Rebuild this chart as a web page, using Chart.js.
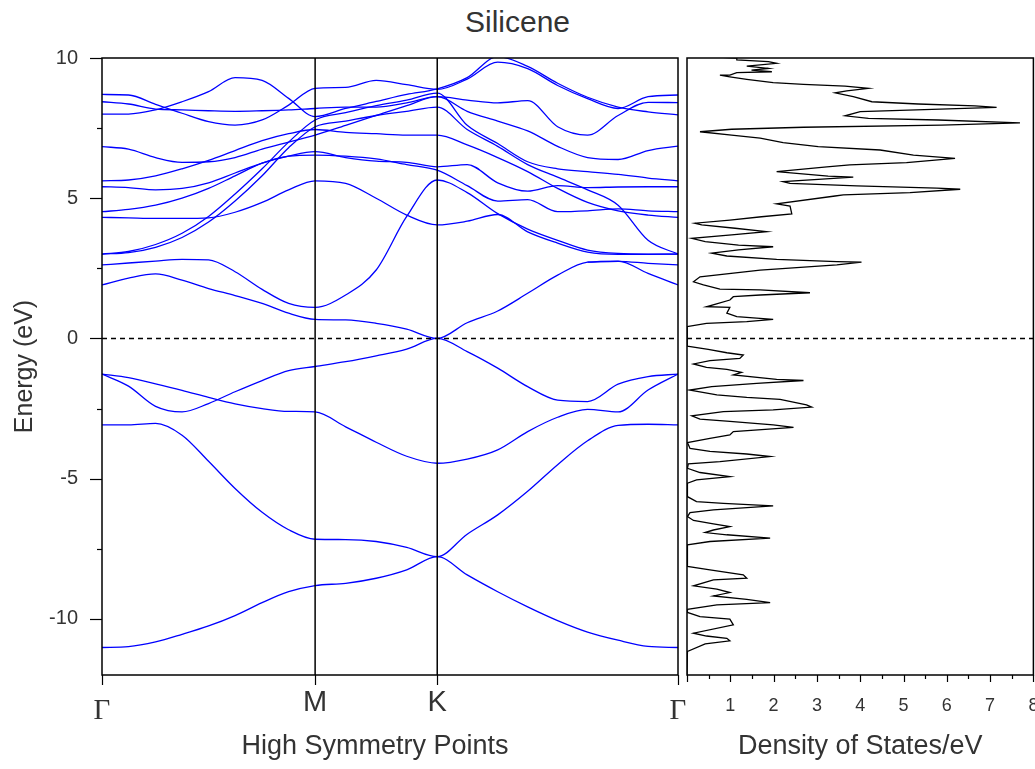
<!DOCTYPE html>
<html>
<head>
<meta charset="utf-8">
<title>Silicene</title>
<script src="https://cdn.jsdelivr.net/npm/chart.js@4.4.0/dist/chart.umd.min.js"></script>
<style>
  html, body { margin: 0; padding: 0; background: #fff; overflow: hidden; }
  #wrap { position: relative; width: 1035px; height: 769px; }
  #title { position: absolute; left: 0; top: 7px; width: 1035px; text-align: center;
           font: 30px/30px "Liberation Sans", Arial, sans-serif; color: #333; }
  #bandChart { position: absolute; left: 0; top: 0; }
  #dosChart { position: absolute; left: 680px; top: 0; }
</style>
</head>
<body>
<div id="wrap">
  <div id="title">Silicene</div>
  <canvas id="bandChart" width="700" height="769"></canvas>
  <canvas id="dosChart" width="360" height="769"></canvas>
</div>
<script>
/* k-path: Γ - M - K - Γ (fraction of path length) */
const kTicks = [0, 0.37, 0.582, 1];
const kLabels = ['Γ', 'M', 'K', 'Γ'];
const kGrid = [0, 0.046, 0.093, 0.139, 0.185, 0.231, 0.278, 0.324, 0.370,
               0.423, 0.476, 0.529, 0.582,
               0.634, 0.687, 0.739, 0.791, 0.843, 0.896, 0.948, 1.0];

/* bands (eV) on kGrid */
const bandL1 = [-11.02,-10.99,-10.82,-10.55,-10.25,-9.88,-9.42,-9.03,-8.81, -8.73,-8.55,-8.25,-7.78, -8.43,-9.03,-9.57,-10.06,-10.47,-10.76,-10.98,-11.02];
const bandL2 = [-3.08,-3.08,-3.03,-3.45,-4.38,-5.35,-6.2,-6.82,-7.16, -7.17,-7.24,-7.45,-7.78, -6.98,-6.29,-5.45,-4.5,-3.65,-3.1,-3.06,-3.08];
const bandV1 = [-1.27,-1.7,-2.42,-2.62,-2.32,-1.9,-1.5,-1.15,-1.0, -0.83,-0.62,-0.38,0, -0.47,-1.06,-1.72,-2.2,-2.25,-1.63,-1.36,-1.27];
const bandV2 = [-1.27,-1.4,-1.62,-1.85,-2.1,-2.33,-2.5,-2.6,-2.62, -3.15,-3.7,-4.2,-4.45, -4.3,-3.97,-3.32,-2.81,-2.53,-2.62,-1.84,-1.27];
const bandC1 = [1.91,2.15,2.3,2.08,1.78,1.53,1.25,0.9,0.68, 0.66,0.54,0.33,0, 0.56,0.98,1.61,2.26,2.72,2.76,2.32,1.91];
const bandC1b = [null,null,null,null,null,null,null,null,null, null,null,null,null, null,null,null,null,2.72,2.75,2.68,2.62];
const bandC2 = [2.62,2.69,2.76,2.82,2.8,2.38,1.75,1.25,1.11, 1.55,2.44,4.35,5.65, 5.2,4.45,3.9,3.5,3.15,3.03,3.01,3.01];
const bandF  = [4.32,4.3,4.28,4.28,4.3,4.5,4.85,5.3,5.62, 5.53,5.0,4.4,4.05, 4.18,4.42,3.8,3.4,3.08,3.0,3.0,3.01];
const bandE3 = [4.52,4.6,4.75,5.0,5.35,5.8,6.25,6.5,6.54, 6.5,6.4,6.2,6.0, 5.45,4.9,4.95,4.52,4.55,4.62,4.55,4.52];
const bandE2 = [5.41,5.38,5.3,5.35,5.55,5.9,6.25,6.5,6.66, 6.45,6.32,6.28,6.12, 6.2,5.55,5.25,5.45,5.38,5.4,5.41,5.41];
const bandE1 = [5.62,5.65,5.8,6.05,6.35,6.7,7.05,7.3,7.45, 7.35,7.3,7.25,7.25, 6.9,6.45,5.95,5.35,4.85,4.55,4.4,4.32];
const bandD2 = [3.01,3.06,3.25,3.6,4.15,4.9,5.8,6.8,7.55, 7.75,7.95,8.1,8.25, 7.45,6.85,6.2,5.75,5.3,4.75,3.5,3.01];
const bandD1 = [3.01,3.1,3.35,3.75,4.35,5.15,6.05,7.0,7.79, 8.05,8.3,8.5,8.75, 7.6,6.95,6.3,6.05,5.95,5.85,5.72,5.62];
const bandH  = [6.84,6.75,6.45,6.28,6.3,6.45,6.75,7.0,7.25, 7.6,7.95,8.3,8.62, 8.1,7.75,7.4,6.85,6.45,6.38,6.7,6.86];
const bandC  = [8.44,8.36,8.18,8.15,8.12,8.1,8.12,8.15,8.2, 8.25,8.25,8.4,8.62, 8.5,8.4,8.48,7.55,7.25,7.95,8.42,8.41];
const bandB  = [8.7,8.68,8.35,8.03,7.73,7.61,7.79,8.32,8.92, 8.95,9.2,9.05,8.88, 9.25,9.85,9.62,9.02,8.55,8.2,8.62,8.68];
const bandA  = [8.0,8.0,8.15,8.44,8.8,9.3,9.2,8.56,7.91, 8.2,8.45,8.7,8.9, 9.3,10.05,9.7,9.1,8.6,8.25,8.08,7.97];

const bands = [bandL1, bandL2, bandV1, bandV2, bandC1, bandC1b, bandC2, bandF, bandE3,
               bandE2, bandE1, bandD2, bandD1, bandH, bandC, bandB, bandA];

/* density of states, read top to bottom */
const dosEnergy = [10.05,10.0,9.93,9.87,9.81,9.71,9.63,9.57,9.51,9.48,9.39,9.39,9.33,9.24,9.12,9.06,9.0,8.92,8.83,8.76,
  8.62,8.44,8.36,8.29,8.24,8.09,7.94,7.85,7.79,7.69,7.61,7.53,7.46,7.37,7.25,7.14,6.98,6.84,6.72,6.54,
  6.42,6.27,6.19,6.12,5.95,5.79,5.75,5.59,5.53,5.44,5.36,5.32,5.2,5.12,5.08,4.8,4.72,4.44,4.34,4.22,
  4.11,4.05,3.93,3.81,3.69,3.57,3.45,3.33,3.27,3.16,3.04,2.94,2.82,2.74,2.72,2.62,2.44,2.2,2.02,1.91,
  1.76,1.73,1.63,1.55,1.49,1.37,1.13,1.11,0.9,0.78,0.68,0.6,0.54,0.42,-0.22,
  -0.27,-0.39,-0.51,-0.59,-0.71,-0.79,-0.91,-1.03,-1.1,-1.21,-1.3,-1.46,-1.5,-1.6,-1.72,-1.84,-2.01,-2.1,-2.17,-2.37,
  -2.45,-2.55,-2.61,-2.76,-2.88,-2.96,-3.08,-3.17,-3.32,-3.44,-3.56,-3.71,-3.92,-4.03,-4.12,-4.21,-4.39,-4.47,-4.63,-4.78,
  -4.93,-5.04,-5.16,-5.64,-5.82,-5.88,-5.97,-6.11,-6.21,-6.35,-6.49,-6.61,-6.71,-6.83,-6.92,-7.0,-7.12,-7.24,-7.36,-8.13,
  -8.25,-8.43,-8.55,-8.61,-8.82,-8.94,-9.06,-9.18,-9.3,-9.42,-9.5,-9.66,-9.77,-9.92,-10.01,-10.21,-10.51,-10.61,-10.69,-10.78,
  -10.89,-11.16,-12];
const dosValue = [0.45,1.15,1.15,1.88,2.07,1.38,1.88,1.49,1.96,1.15,0.99,0.76,0.99,1.38,1.99,2.69,3.65,4.19,3.69,3.42,
  3.84,4.27,5.34,6.65,7.15,4.0,3.65,4.19,5.8,7.69,5.88,2.69,1.03,0.3,1.03,1.69,2.22,3.03,4.46,5.23,
  6.19,5.07,3.76,3.23,2.07,3.26,3.84,2.22,2.38,3.92,5.77,6.31,5.15,3.61,3.42,2.07,2.38,2.42,1.72,0.99,
  0.18,0.34,1.11,1.84,1.03,0.11,0.42,1.19,1.99,1.19,0.57,0.92,2.07,3.46,4.03,3.46,1.69,0.3,0.15,0.38,
  0.76,1.69,2.84,1.69,1.07,0.99,0.45,0.99,0.92,1.15,1.99,1.38,0.45,0,0,
  0.01,0.49,0.92,1.3,1.22,0.53,0.15,0.45,0.92,1.26,1.07,2.07,2.69,1.61,0.57,0.07,0.69,1.38,2.15,2.76,
  2.88,1.99,0.84,0.11,0.3,0.99,1.99,2.46,1.07,0.99,0.53,0.01,0.07,0.53,1.38,1.92,0.76,0.03,0.01,0.3,
  0.99,0.22,0.01,0.01,0.22,0.84,1.99,0.61,0.07,0.01,0.15,0.61,0.99,0.61,0.42,0.92,1.92,0.53,0.01,0.01,
  0.53,1.3,1.38,0.61,0.15,0.69,0.99,0.61,1.38,1.92,0.69,0.01,0.01,0.3,0.99,1.07,0.15,0.45,0.92,0.99,
  0.42,0.01,0];

const yMajor = [-10, -5, 0, 5, 10];
const yMinor = [-7.5, -2.5, 2.5, 7.5];
const dosMajor = [0, 1, 2, 3, 4, 5, 6, 7, 8];
const dosMinor = [0.5, 1.5, 2.5, 3.5, 4.5, 5.5, 6.5, 7.5];
const fermiLevel = 0;

const SANS = '"Liberation Sans", Arial, sans-serif';
const SERIF = '"Liberation Serif", "Times New Roman", serif';
const TXT = '#333';

/* frame + tick marks */
const frameTicks = {
  id: 'frameTicks',
  afterDraw(chart, args, opts) {
    const { ctx, chartArea: a } = chart;
    ctx.save();
    ctx.strokeStyle = '#000';
    ctx.lineWidth = 1.5;
    ctx.strokeRect(a.left, a.top, a.right - a.left, a.bottom - a.top);
    ctx.lineWidth = 1.2;
    (opts.marks || []).forEach(m => {
      const s = chart.scales[m.axis];
      m.values.forEach(v => {
        const p = Math.round(s.getPixelForValue(v)) + 0.5;
        ctx.beginPath();
        if (m.axis === 'y') { ctx.moveTo(a.left - m.len, p); ctx.lineTo(a.left, p); }
        else { ctx.moveTo(p, a.bottom); ctx.lineTo(p, a.bottom + m.len); }
        ctx.stroke();
      });
    });
    ctx.restore();
  }
};

/* band structure */
const bandSets = [
  { data: [{ x: kTicks[1], y: -12 }, { x: kTicks[1], y: 10 }], borderColor: '#000', borderWidth: 1.5 },
  { data: [{ x: kTicks[2], y: -12 }, { x: kTicks[2], y: 10 }], borderColor: '#000', borderWidth: 1.5 },
  { data: [{ x: 0, y: fermiLevel }, { x: 1, y: fermiLevel }], borderColor: '#000', borderWidth: 1.5, borderDash: [5, 4] },
  ...bands.map(b => ({
    data: kGrid.map((k, i) => ({ x: k, y: b[i] })).filter(p => p.y !== null),
    borderColor: '#0000ff', borderWidth: 1.3, cubicInterpolationMode: 'monotone'
  }))
].map(d => Object.assign({ showLine: true, pointRadius: 0, fill: false }, d));

new Chart(document.getElementById('bandChart'), {
  type: 'scatter',
  data: { datasets: bandSets },
  options: {
    responsive: false, animation: false, devicePixelRatio: 1,
    layout: { padding: { left: 0, top: 58, right: 22, bottom: 0 } },
    plugins: {
      legend: { display: false }, tooltip: { enabled: false },
      frameTicks: { marks: [
        { axis: 'y', values: yMajor, len: 12 },
        { axis: 'y', values: yMinor, len: 5 },
        { axis: 'x', values: kTicks, len: 10 }
      ] }
    },
    scales: {
      x: {
        type: 'linear', min: 0, max: 1,
        grid: { display: false, drawTicks: true, tickLength: 11 }, border: { display: false },
        afterBuildTicks: s => { s.ticks = kTicks.map(v => ({ value: v })); },
        afterFit: s => { s.height = 94; },
        ticks: {
          autoSkip: false, maxRotation: 0, padding: 0, color: TXT,
          callback: (v, i) => kLabels[i],
          font: c => (kLabels[c.index] === 'Γ'
            ? { family: SERIF, size: 29, lineHeight: 1.72 }
            : { family: SANS, size: 29, lineHeight: 1.2 })
        },
        title: { display: true, text: 'High Symmetry Points\u00a0\u00a0\u00a0\u00a0', color: TXT,
                 font: { family: SANS, size: 27 }, padding: { top: 0, bottom: 6 } }
      },
      y: {
        type: 'linear', min: -12, max: 10,
        grid: { display: false, drawTicks: true, tickLength: 8 }, border: { display: false },
        afterBuildTicks: s => { s.ticks = yMajor.map(v => ({ value: v })); },
        afterFit: s => { s.width = 102; },
        ticks: { padding: 16, color: TXT, font: { family: SANS, size: 20 } },
        title: { display: true, text: 'Energy (eV)', color: TXT,
                 font: { family: SANS, size: 25 }, padding: { top: 10, bottom: 0 } }
      }
    }
  },
  plugins: [frameTicks]
});

/* density of states */
const dosSets = [
  { data: [{ x: 0, y: fermiLevel }, { x: 8, y: fermiLevel }], borderColor: '#000', borderWidth: 1.5, borderDash: [5, 4] },
  { data: dosEnergy.map((e, i) => ({ x: dosValue[i], y: e })), borderColor: '#000', borderWidth: 1.3 }
].map(d => Object.assign({ showLine: true, pointRadius: 0, fill: false, tension: 0 }, d));

new Chart(document.getElementById('dosChart'), {
  type: 'scatter',
  data: { datasets: dosSets },
  options: {
    responsive: false, animation: false, devicePixelRatio: 1,
    layout: { padding: { left: 7, top: 58, right: 6.6, bottom: 0 } },
    plugins: {
      legend: { display: false }, tooltip: { enabled: false },
      frameTicks: { marks: [
        { axis: 'x', values: dosMajor, len: 7 },
        { axis: 'x', values: dosMinor, len: 4 }
      ] }
    },
    scales: {
      x: {
        type: 'linear', min: 0, max: 8,
        grid: { display: false, drawTicks: true, tickLength: 20 }, border: { display: false },
        afterBuildTicks: s => { s.ticks = dosMajor.map(v => ({ value: v })); },
        afterFit: s => { s.height = 94; },
        ticks: { autoSkip: false, maxRotation: 0, padding: 0, color: TXT,
                 font: { family: SANS, size: 18 }, callback: v => (v > 0 ? String(v) : '') },
        title: { display: true, text: 'Density of States/eV', color: TXT,
                 font: { family: SANS, size: 27 }, padding: { top: 0, bottom: 6 } }
      },
      y: { type: 'linear', min: -12, max: 10, display: false }
    }
  },
  plugins: [frameTicks]
});
</script>
</body>
</html>
